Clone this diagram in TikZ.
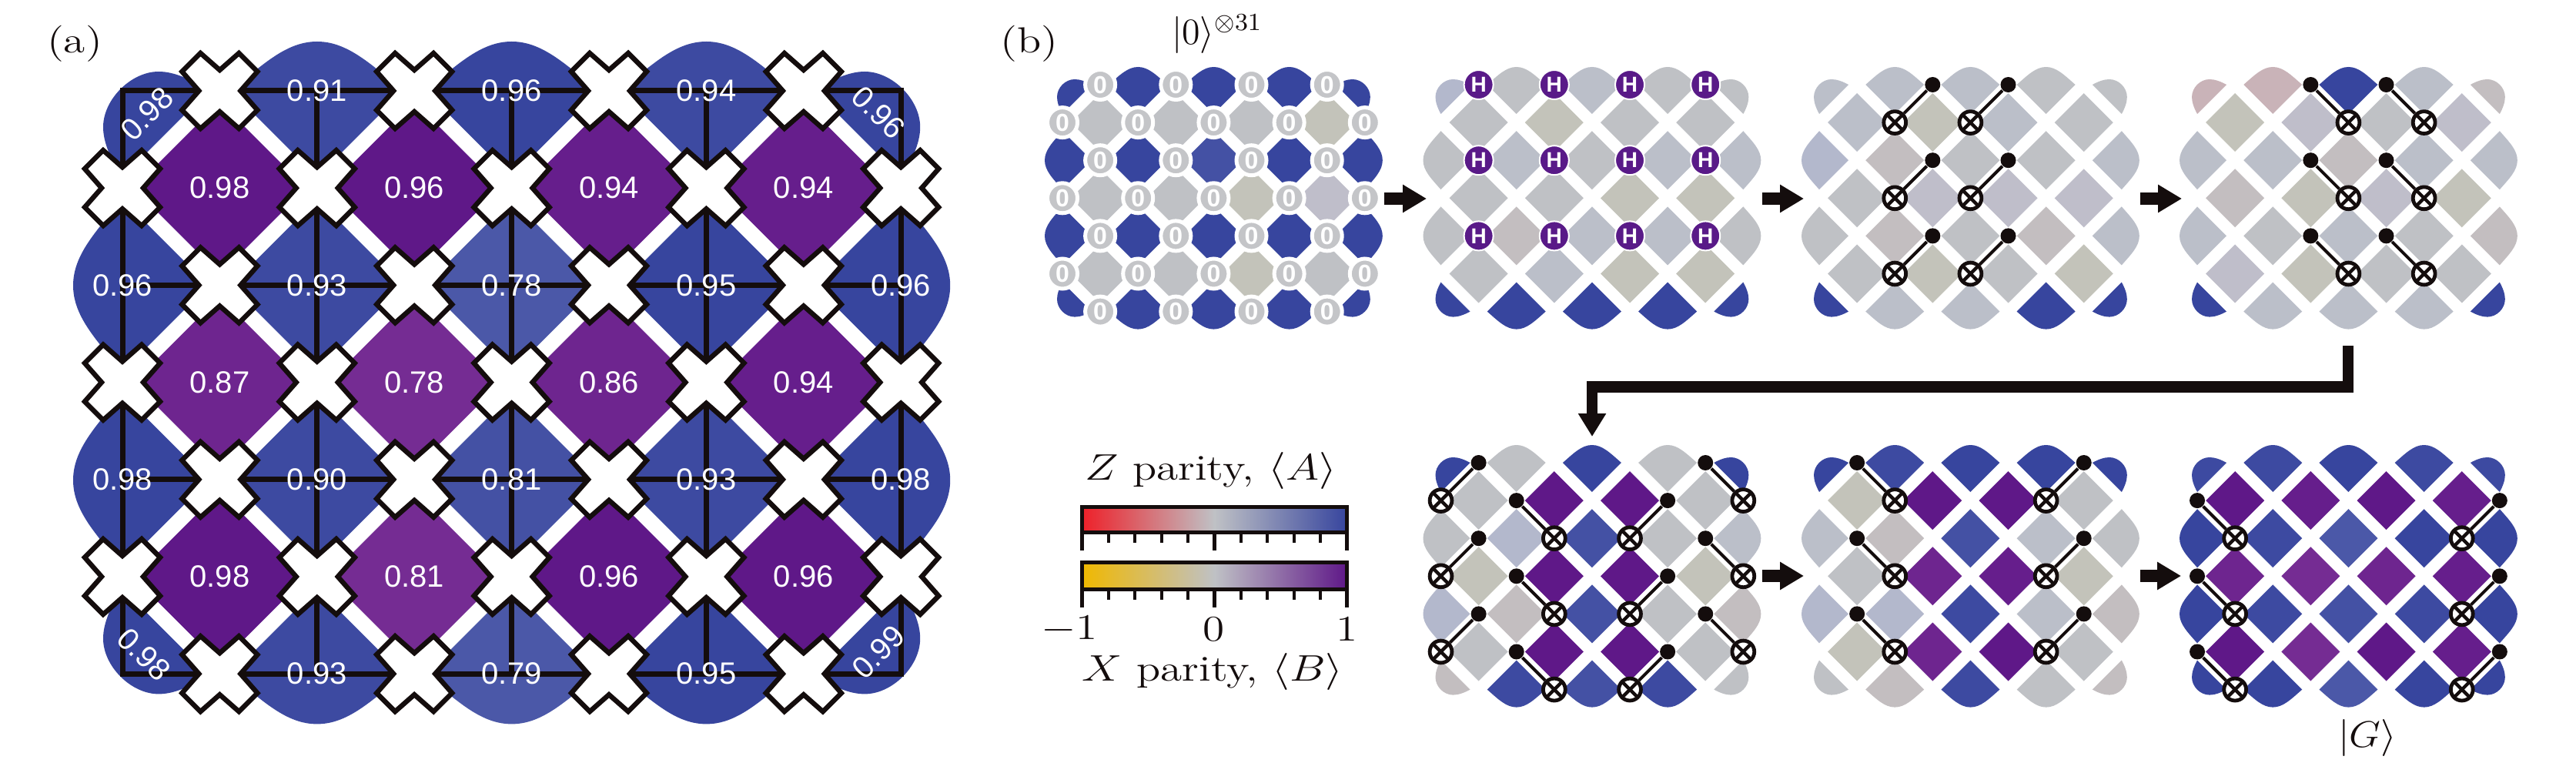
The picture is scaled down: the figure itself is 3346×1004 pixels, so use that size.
\documentclass[tikz,border=0pt]{standalone}
\usepackage{fontspec}
\usetikzlibrary{arrows.meta}
\newfontfamily\labfont{Liberation Sans}
\newcommand{\wide}[1]{\scalebox{1.22}[1]{#1}}
\definecolor{Za}{HTML}{37459E}
\definecolor{Zb}{HTML}{3D4AA1}
\definecolor{Zc}{HTML}{4451A4}
\definecolor{Zd}{HTML}{4B58A8}
\definecolor{Xa}{HTML}{5F1888}
\definecolor{Xb}{HTML}{661E8C}
\definecolor{Xc}{HTML}{6E258F}
\definecolor{Xd}{HTML}{752C93}
\definecolor{Gn}{HTML}{BFC1C5}
\definecolor{Gb}{HTML}{BBBFC9}
\definecolor{Gw}{HTML}{C3C3BA}
\definecolor{Gr}{HTML}{C3BEC0}
\definecolor{Gl}{HTML}{BFBECA}
\definecolor{Pk}{HTML}{C9B3B8}
\definecolor{Bl}{HTML}{B3B8CC}
\definecolor{Ink}{HTML}{140D0D}
\definecolor{Zero}{HTML}{C4C5C8}
\definecolor{Hq}{HTML}{591A88}
\def\shapeD{\fill[fill=\cc] (-\tileH,0)--(0,-\tileH)--(\tileH,0)--(0,\tileH)--cycle;}
\def\shapeT{\fill[fill=\cc] (-\tileH,0) .. controls (-.62*\tileH,-.55*\tileL) and (-.35*\tileH,-\tileL) .. (0,-\tileL) .. controls (.35*\tileH,-\tileL) and (.62*\tileH,-.55*\tileL) .. (\tileH,0) -- (0,\tileH) -- cycle;}
\def\shapeK{\fill[fill=\cc] (\tileH,0) .. controls (.8*\tileH,-.6*\tileC) and (.6*\tileH,-\tileC) .. (.42*\tileH,-\tileC) .. controls (.1*\tileH,-\tileC) and (-\tileC,.1*\tileH) .. (-\tileC,.42*\tileH) .. controls (-\tileC,.6*\tileH) and (-.6*\tileC,.8*\tileH) .. (0,\tileH) -- cycle;}
\newcommand{\withtile}[2]{\begin{scope}[#1]#2\end{scope}}
% #1 ox, #2 oy, #3 pitch, #4 half diagonal, #5 lobe, #6 corner bulge, #7 colours
\newcommand{\drawlattice}[7]{%
  \def\tileH{#4}\def\tileL{#5}\def\tileC{#6}%
  \foreach \cc [count=\ii from 0] in {#7} {%
    \pgfmathtruncatemacro\mm{mod(\ii,9)}%
    \pgfmathtruncatemacro\qq{div(\ii,9)}%
    \ifnum\mm<5
      \pgfmathtruncatemacro\rr{2*\qq}\pgfmathtruncatemacro\kk{2*\mm}%
    \else
      \pgfmathtruncatemacro\rr{2*\qq+1}\pgfmathtruncatemacro\kk{2*(\mm-5)+1}%
    \fi
    \begin{scope}[shift={(#1+\kk*#3,#2+\rr*#3)}]
      \ifnum\rr=0
        \ifnum\kk=0 \shapeK\else\ifnum\kk=8 \withtile{xscale=-1}{\shapeK}\else \shapeT\fi\fi
      \else\ifnum\rr=6
        \ifnum\kk=0 \withtile{yscale=-1}{\shapeK}\else\ifnum\kk=8 \withtile{xscale=-1,yscale=-1}{\shapeK}\else \withtile{yscale=-1}{\shapeT}\fi\fi
      \else
        \ifnum\kk=0 \withtile{rotate=90}{\shapeT}\else\ifnum\kk=8 \withtile{rotate=-90}{\shapeT}\else \shapeD\fi\fi
      \fi\fi
    \end{scope}
  }%
}
% #1 name, #2 ox, #3 oy, #4 list control col/row/target col/row
\newcommand{\cnots}[4]{%
  \foreach \ca/\cb/\ta/\tb [count=\nn] in {#4} {%
    \node[ctrl] (#1c\nn) at (#2+\ca*49.1,#3+\cb*49.1) {};
    \node[targ] (#1t\nn) at (#2+\ta*49.1,#3+\tb*49.1) {};
    \draw[cnotline] (#1c\nn) -- (#1t\nn);
  }%
}
\tikzset{
  big/.style={font=\fontsize{11.75}{14}\selectfont, text=Ink, inner sep=0pt},
  val/.style={font=\labfont\fontsize{10}{11}\selectfont, text=white, inner sep=0pt},
  gridln/.style={draw=Ink, line width=1.75pt, line cap=rect},
  crossq/.style={draw=Ink, fill=white, line width=1.6pt, miter limit=4},
  zeroq/.style={circle, fill=Zero, draw=white, line width=1.25pt, minimum size=9.75pt, inner sep=0pt, text=white, font=\labfont\bfseries\fontsize{8}{8}\selectfont},
  hq/.style={circle, fill=Hq, draw=white, line width=.5pt, minimum size=9.5pt, inner sep=0pt, text=white, font=\labfont\bfseries\fontsize{7}{7}\selectfont},
  ctrl/.style={circle, fill=Ink, minimum size=5pt, inner sep=0pt},
  targ/.style={circle, fill=white, draw=Ink, line width=1.2pt, minimum size=7.2pt, inner sep=0pt,
    path picture={\draw[Ink, line width=1.1pt] (path picture bounding box.north west) -- (path picture bounding box.south east) (path picture bounding box.north east) -- (path picture bounding box.south west);}},
  cnotline/.style={draw=Ink, line width=1pt},
  fat/.style={draw=Ink, line width=4pt, -{Triangle[length=7.75pt,width=8.6pt,fill=Ink]}},
  fatl/.style={draw=Ink, line width=3.6pt, miter limit=4, -{Triangle[length=7.5pt,width=8.6pt,fill=Ink]}},
  barframe/.style={draw=Ink, line width=1.25pt},
  tickmaj/.style={draw=Ink, line width=1.25pt},
  tickmin/.style={draw=Ink, line width=1pt},
}
\begin{document}
\begin{tikzpicture}[x=0.25pt,y=-0.25pt]
\useasboundingbox (0,0) rectangle (3346,1004);
\fill[white] (0,0) rectangle (3346,1004);
% ---------- panel (a)
\node[big] (la) at (97,57) {\wide{(a)}};
\drawlattice{159}{118}{126.4}{112}{64}{25}{Za,Zb,Za,Zb,Za, Xa,Xa,Xb,Xb, Za,Zb,Zd,Za,Za, Xc,Xd,Xc,Xb, Za,Zb,Zc,Zb,Za, Xa,Xd,Xa,Xa, Za,Zb,Zd,Za,Za}
\foreach \r in {0,2,4,6} \draw[gridln] (159,118+\r*126.2) -- (159+8*126.4,118+\r*126.2);
\foreach \c in {0,2,4,6,8} \draw[gridln] (159+\c*126.4,118) -- (159+\c*126.4,118+6*126.2);
\foreach \t/\c/\r [count=\n] in {0.91/2/0,0.96/4/0,0.94/6/0,
  0.98/1/1,0.96/3/1,0.94/5/1,0.94/7/1,
  0.96/0/2,0.93/2/2,0.78/4/2,0.95/6/2,0.96/8/2,
  0.87/1/3,0.78/3/3,0.86/5/3,0.94/7/3,
  0.98/0/4,0.90/2/4,0.81/4/4,0.93/6/4,0.98/8/4,
  0.98/1/5,0.81/3/5,0.96/5/5,0.96/7/5,
  0.93/2/6,0.79/4/6,0.95/6/6}
  \node[val] (v\n) at (159+\c*126.4,118+\r*126.2) {\t};
\node[val,rotate=45] (vtl) at (191,148) {0.98};
\node[val,rotate=-45] (vtr) at (1141,146) {0.96};
\node[val,rotate=-45] (vbl) at (187,850) {0.98};
\node[val,rotate=45] (vbr) at (1141,847) {0.99};
\foreach \c/\r in {1/0,3/0,5/0,7/0, 0/1,2/1,4/1,6/1,8/1, 1/2,3/2,5/2,7/2, 0/3,2/3,4/3,6/3,8/3, 1/4,3/4,5/4,7/4, 0/5,2/5,4/5,6/5,8/5, 1/6,3/6,5/6,7/6}
  \draw[crossq, shift={(159+\c*126.4,118+\r*126.2)}] (0,-27)--(25,-49)--(49,-25)--(27,0)--(49,25)--(25,49)--(0,27)--(-25,49)--(-49,25)--(-27,0)--(-49,-25)--(-25,-49)--cycle;
% ---------- panel (b) labels
\node[big] (lb) at (1337,57) {\wide{(b)}};
\node[big] (ket0) at (1581,44) {$|0\rangle^{\otimes 31}$};
\node[big] (ketG) at (3075,958) {\scalebox{1.1}[1]{$|G\rangle$}};
% ---------- panel 1
\drawlattice{1380}{110}{49.1}{38}{23}{7}{Za,Za,Za,Za,Za, Gn,Gn,Gn,Gw, Za,Za,Zc,Za,Za, Gn,Gn,Gw,Gl, Za,Za,Za,Za,Za, Gn,Gn,Gw,Gn, Za,Za,Za,Za,Za}
\foreach \c/\r [count=\n] in {1/0,3/0,5/0,7/0, 0/1,2/1,4/1,6/1,8/1, 1/2,3/2,5/2,7/2, 0/3,2/3,4/3,6/3,8/3, 1/4,3/4,5/4,7/4, 0/5,2/5,4/5,6/5,8/5, 1/6,3/6,5/6,7/6}
  \node[zeroq] (z\n) at (1380+\c*49.1,110+\r*49.1) {0};
% ---------- panel 2
\drawlattice{1871.5}{110}{49.1}{38}{23}{7}{Bl,Gn,Gb,Gn,Gn, Gn,Gw,Gn,Gn, Gn,Gb,Gn,Gb,Gb, Gn,Gn,Gw,Gw, Gn,Gr,Gb,Gb,Gn, Gn,Gb,Gw,Gw, Za,Za,Za,Za,Za}
\foreach \c/\r [count=\n] in {1/0,3/0,5/0,7/0, 1/2,3/2,5/2,7/2, 1/4,3/4,5/4,7/4}
  \node[hq] (h\n) at (1871.5+\c*49.1,110+\r*49.1) {H};
% ---------- panel 3
\drawlattice{2363}{110}{49.1}{38}{23}{7}{Gb,Gb,Gb,Gn,Gn, Gb,Gw,Gb,Gn, Bl,Gr,Gn,Gn,Gb, Gn,Gl,Gl,Gl, Gn,Gr,Gn,Gr,Gb, Gn,Gw,Gn,Gw, Za,Gb,Gb,Za,Za}
\cnots{p}{2363}{110}{3/0/2/1,5/0/4/1,3/2/2/3,5/2/4/3,3/4/2/5,5/4/4/5}
% ---------- panel 4
\drawlattice{2854}{110}{49.1}{38}{23}{7}{Pk,Pk,Za,Gb,Gr, Gw,Gl,Gn,Gl, Gb,Gb,Gr,Gb,Gb, Gr,Gw,Gl,Gw, Gb,Gn,Gb,Gn,Gr, Gl,Gw,Gn,Gn, Za,Gb,Gb,Gb,Za}
\cnots{q}{2854}{110}{3/0/4/1,5/0/6/1,3/2/4/3,5/2/6/3,3/4/4/5,5/4/6/5}
% ---------- panel 5
\drawlattice{1871.5}{601}{49.1}{38}{23}{7}{Za,Gn,Za,Gn,Za, Gn,Xa,Xa,Gn, Gn,Bl,Zc,Gn,Gb, Gw,Xa,Xa,Gw, Bl,Gr,Zc,Gn,Gr, Gn,Xa,Xa,Gn, Gr,Zb,Zc,Zb,Gn}
\cnots{r}{1871.5}{601}{1/0/0/1,1/2/0/3,1/4/0/5,2/1/3/2,2/3/3/4,2/5/3/6,6/1/5/2,6/3/5/4,6/5/5/6,7/0/8/1,7/2/8/3,7/4/8/5}
% ---------- panel 6
\drawlattice{2363}{601}{49.1}{38}{23}{7}{Za,Zb,Za,Za,Za, Gw,Xa,Xa,Gn, Gb,Gr,Zc,Gb,Gn, Gn,Xc,Xb,Gw, Bl,Bl,Zb,Gb,Gr, Gw,Xc,Xa,Gn, Gn,Gr,Zb,Gn,Gr}
\cnots{s}{2363}{601}{1/0/2/1,1/2/2/3,1/4/2/5,7/0/6/1,7/2/6/3,7/4/6/5}
% ---------- panel 7
\drawlattice{2854}{601}{49.1}{38}{23}{7}{Zb,Zb,Za,Zb,Zb, Xa,Xb,Xa,Xb, Za,Zb,Zd,Za,Za, Xc,Xd,Xc,Xb, Za,Zb,Zc,Zb,Za, Xa,Xd,Xa,Xb, Za,Za,Zd,Za,Za}
\cnots{u}{2854}{601}{0/1/1/2,0/3/1/4,0/5/1/6,8/1/7/2,8/3/7/4,8/5/7/6}
% ---------- arrows
\coordinate (a1s) at (1798,258); \coordinate (a1e) at (1853,258);
\coordinate (a2s) at (2289,258); \coordinate (a2e) at (2343,258);
\coordinate (a3s) at (2780,258); \coordinate (a3e) at (2834,258);
\coordinate (a4s) at (2289,748); \coordinate (a4e) at (2343,748);
\coordinate (a5s) at (2780,748); \coordinate (a5e) at (2833,748);
\foreach \n in {1,...,5} \draw[fat] (a\n s) -- (a\n e);
\coordinate (ls) at (3050,449); \coordinate (lc) at (3050,502.5);
\coordinate (ld) at (2068,502.5); \coordinate (le) at (2068,567);
\draw[fatl] (ls) -- (lc) -- (ld) -- (le);
% ---------- colour bars
\node[big] (zp) at (1572.5,611) {\wide{$Z$ parity, $\langle A\rangle$}};
\node[big] (xp) at (1575,872) {\wide{$X$ parity, $\langle B\rangle$}};
\shade[left color={rgb,255:red,238;green,32;blue,41}, right color=Za, middle color=Gn] (1405.5,658.5) rectangle (1749.5,691.5);
\draw[barframe] (1405.5,658.5) rectangle (1749.5,691.5);
\shade[left color={rgb,255:red,240;green,184;blue,0}, right color=Xa, middle color=Gn] (1405.5,730.5) rectangle (1749.5,765.5);
\draw[barframe] (1405.5,730.5) rectangle (1749.5,765.5);
\foreach \k in {1,2,3,4,6,7,8,9} {
  \draw[tickmin] (1405.5+\k*34.4,691.5) -- (1405.5+\k*34.4,705);
  \draw[tickmin] (1405.5+\k*34.4,765.5) -- (1405.5+\k*34.4,779);
}
\foreach \k in {0,5,10} {
  \draw[tickmaj] (1405.5+\k*34.4,691.5) -- (1405.5+\k*34.4,715);
  \draw[tickmaj] (1405.5+\k*34.4,765.5) -- (1405.5+\k*34.4,789);
}
\node[big] (tm) at (1412,817) {\llap{\wide{$-$}}\wide{1}};
\node[big] (t0) at (1577,817) {\wide{0}};
\node[big] (t1) at (1750,817) {\wide{1}};
\end{tikzpicture}
\end{document}
